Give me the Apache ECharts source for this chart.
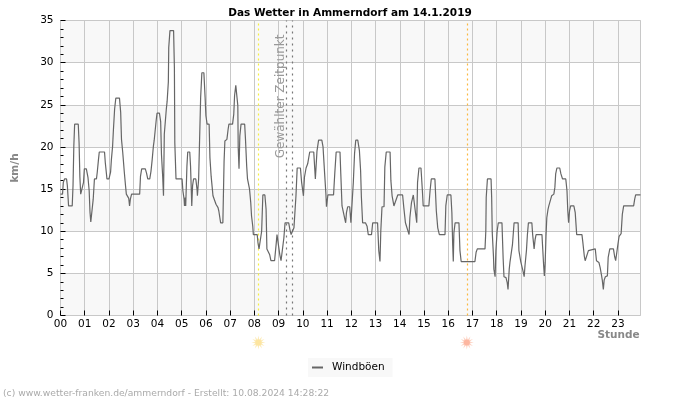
<!DOCTYPE html>
<html><head><meta charset="utf-8">
<style>html,body{margin:0;padding:0;background:#fff}#c{width:700px;height:400px}</style>
<script src="https://cdn.jsdelivr.net/npm/echarts@6/dist/echarts.min.js"></script>
</head><body><div id="c"></div>
<script>
const chartTitle = 'Das Wetter in Ammerndorf am 14.1.2019';
const credit = '(c) www.wetter-franken.de/ammerndorf - Erstellt: 10.08.2024 14:28:22';
const seriesName = 'Windböen';
const sunriseMinute = 490, sunsetMinute = 1006;
const selectedMinutes = [560, 575];
// [minute of day, km/h]
const gusts = [
[0,14.4],[5,14.4],[7,15.8],[10,16.2],[15,16.2],[17,15.4],[19,13.8],[20,13],[29,13],[31,15.4],[33,20.1],[35,22.7],[44,22.7],[46,20.5],[48,16.4],[50,14.4],[54,14.4],[57,15.8],[59,17.4],[64,17.4],[68,16.4],[71,14.8],[73,12.3],[75,11.1],[79,11.1],[81,13.8],[84,16.2],[89,16.2],[91,17],[94,18.5],[96,19.4],[109,19.4],[111,18.1],[114,16.7],[115,16.2],[120,16.2],[124,17],[126,18.5],[129,20.1],[131,22],[134,24.5],[137,25.8],[146,25.8],[149,24.1],[151,20.9],[154,19.4],[156,19.4],[158,17],[161,15.4],[163,14.4],[167,14.4],[169,13.9],[171,13],[173,13.8],[176,14.4],[196,14.4],[198,16.5],[201,17.4],[210,17.4],[213,16.9],[216,16.2],[221,16.2],[224,17.1],[227,18.5],[230,20.1],[232,20.8],
[234,20.7],[237,23.2],[239,24],[245,24],[248,23],[250,19.1],[253,16.5],[255,14.2],[257,21.5],[259,21.5],[262,24.5],[264,25.4],[267,27.7],[268,31.8],[271,33.8],[280,33.8],[282,29.4],[283,20.5],[286,16.2],[301,16.2],[303,14.8],[306,13.8],[307,13],[309,14],[310,13],[313,17.7],[315,19.4],[320,19.4],[322,17.7],[325,13],[327,15.4],[329.5,16.2],[335,16.2],[338,15],[339,14.2],[342,16.2],[344,20.1],[347,25.9],[350,28.8],[355,28.8],[358,25.9],[360,23.7],[363,22.7],[368,22.7],[370,18.7],[373,16.5],[376,15],[377.5,14.2],[382,14.2],[385,13.2],[390,12.8],[392,12.4],[396.5,11],[402,11],[405,18.3],[407,20.7],[412,20.9],[415,22.1],[417,22.7],[426,22.7],[429,23.9],[431,26.1],[434,27.3],[437,27.3],[439,24.9],[440,19.9],[442,17.4],[444,21.3],[447,22.7],[456,22.7],[458,20.9],[461,17.7],[463,16.2],[466,16.1],[468,15],[471,13.4],[473,11.8],[476,10.6],[477.5,9.6],
[487,9.6],[489,8.6],[491.5,7.9],[496,7.9],[498,10],[501,14.3],[506,14.3],[509,12.6],[511,7.9],[515,7.8],[518,7.2],[521,6.5],[530,6.5],[534,8.5],[536,9.6],[540,9.6],[543,7.2],[546,6.5],[550,6.5],[553,9.2],[556,11],[565,11],[568,10.2],[571,9.6],[575,9.6],[578,10.4],[583,14.2],[586,17.5],[594,17.5],[597,15.8],[601.5,14.2],[604,16.4],[608,17.5],[612,18],[617,19.4],[627,19.4],[631,16.2],[635,19.5],[639,20.8],[647,20.8],[650,20],[654,16.8],[657,14.5],[658.5,12.9],[662,14.3],[676,14.3],[679,16.8],[682.5,19.4],[692,19.4],[694,16.8],[697,13],[701.6,12.8],[706,11],
[708,12.2],[711,12.9],[716,12.9],[719,11],[721,12.6],[725,15.8],[728,19.2],[731,20.8],[736,20.8],[740,19.6],[743,17.2],[745,14],[748,11],[755,11],[759,10.6],[762,9.6],[770,9.6],[773,11],[785,11],[788,7.7],[791,6.4],[793,10],[796,12.9],[801,12.9],[803,17.6],[806.5,19.4],[816,19.4],[818,16],[821,14.2],[825.5,13],[830,13],[835,14.3],[847,14.3],[850,12.8],[854,11],[858,10.8],[863,9.6],[865,11.6],[869,13.4],[873.5,14.3],[878,14.3],[882,11],[884,15.8],[887.5,17.5],[892.5,17.5],[896,14.8],[898,13],[912,13],[915,14.8],[918,16.2],[927,16.2],[930.5,12.4],[934,10.4],[938,9.6],[952,9.6],
[954,13],[957.5,14.3],[966.6,14.3],[969,12.2],[971,8.4],[972.5,6.4],[974,9.8],[977,11],[986.5,11],[989,7.7],[992,6.4],[1026,6.4],[1029,7.5],[1032,7.9],[1051,7.9],[1053,10],[1054,14],[1057,16.2],[1066,16.2],[1067.5,14],[1069,9.8],[1072,7],[1073,5.5],[1076,4.6],[1078,7.7],[1081,10],[1084,11],[1093,11],[1096,6.7],[1098,4.6],[1103,4.5],[1106,3.9],[1108,3.1],[1111,5.5],[1113,6.4],[1116,6.5],[1119,8.4],[1123,11],[1133,11],[1135,7.7],[1139.5,6.4],[1143,6.3],[1145,5.3],[1148,4.6],[1150,5.9],[1153.6,7.7],[1156,9.6],[1158.5,11],[1167,11],[1169,9.6],[1172.6,7.9],[1175,9],[1177.5,9.6],
[1192,9.6],[1194,7.85],[1196,6.1],[1198,4.7],[1200,6.3],[1202,9.4],[1204,11.6],[1207,12.6],[1209,13],[1212,13.2],[1216,14.2],[1221.5,14.4],[1224,15.2],[1226,16.8],[1229,17.5],[1236,17.5],[1239,16.8],[1243,16.2],[1251,16.2],[1254,14.8],[1256,12.4],[1258,11],[1260.3,12.4],[1263,13],[1271,13],[1274.4,12.2],[1278,9.6],[1291,9.6],[1293,8.8],[1297,7],[1299,6.5],[1303,6.5],[1307,7.7],[1309,7.9],[1324,7.9],[1327,6.5],[1333,6.3],[1336,5.7],[1339,4.9],[1341.4,4.2],[1344,3.1],[1346,4.2],[1349,4.6],[1354,4.7],[1356,6.9],[1360,7.9],[1369,7.9],[1372,7],[1374.5,6.5],[1379.4,8.2],[1383,9.4],[1388,9.7],[1391,12],[1394.3,13],[1419,13],[1421.6,13.8],[1424,14.3],[1436,14.3]
];
const FONT = '"DejaVu Sans"';
const GRID = '#c8c8c8';
const sunRays = 'path://M50 0 L56 30 L75 7 L68 34 L93 25 L72 44 L100 50 L72 56 L93 75 L68 66 L75 93 L56 70 L50 100 L44 70 L25 93 L32 66 L7 75 L28 56 L0 50 L28 44 L7 25 L32 34 L25 7 L44 30 Z';
const belowAxis = -3.2;
const chart = echarts.init(document.getElementById('c'), null, {renderer:'canvas'});
const vLine = (x,color,type)=>({xAxis:x,lineStyle:{color,width:1.2,type}});
chart.setOption({
  animation:false,
  backgroundColor:'#fff',
  title:{text:chartTitle,left:345,top:3,textAlign:'center',textStyle:{fontFamily:FONT,fontSize:10.5,fontWeight:'bold',color:'#000'}},
  legend:{left:308,top:358,backgroundColor:'#f8f8f8',padding:[4,8,4,4],itemWidth:11,itemHeight:2,itemGap:4,
    data:[{name:seriesName,icon:'rect'}],textStyle:{fontFamily:FONT,fontSize:10.5,color:'#000',padding:[0,0,0,4]}},
  grid:{left:60.5,top:20.5,width:580,height:295,show:true,borderColor:GRID,borderWidth:1,backgroundColor:'transparent'},
  xAxis:{type:'value',min:0,max:1436,interval:60,
    name:'Stunde',nameLocation:'end',nameGap:-43,
    nameTextStyle:{fontFamily:FONT,fontWeight:'bold',fontSize:10.5,color:'#888',verticalAlign:'top',padding:[14,0,0,0]},
    axisLine:{show:false},
    axisTick:{inside:true,length:5,lineStyle:{color:'#000',width:1}},
    splitLine:{show:true,lineStyle:{color:GRID,width:1}},
    axisLabel:{margin:3,fontFamily:FONT,fontSize:10.5,color:'#000',showMaxLabel:false,hideOverlap:false,
      formatter:v=>v%60===0?String(v/60).padStart(2,'0'):''}},
  yAxis:{type:'value',min:0,max:35,interval:5,
    name:'km/h',nameLocation:'middle',nameGap:40,nameRotate:90,
    nameTextStyle:{fontFamily:FONT,fontWeight:'bold',fontSize:10.5,color:'#888'},
    axisLine:{show:false},
    axisTick:{inside:true,length:5,lineStyle:{color:'#000',width:1}},
    minorTick:{show:true,splitNumber:5,length:3,lineStyle:{color:'#000',width:1}},
    splitLine:{show:true,lineStyle:{color:GRID,width:1}},
    splitArea:{show:true,areaStyle:{color:['#f8f8f8','#ffffff']}},
    axisLabel:{margin:7,fontFamily:FONT,fontSize:10.5,color:'#000'}},
  series:[
    {name:seriesName,type:'line',data:gusts,showSymbol:false,symbol:'none',z:5,
     lineStyle:{color:'#666',width:1.2},itemStyle:{color:'#666'},
     markLine:{silent:true,symbol:'none',animation:false,
       label:{show:false},
       data:[vLine(sunriseMinute,'#f7f03c',[2,3]),vLine(sunsetMinute,'#fbb840',[2,3]),
         {...vLine(selectedMinutes[0],'#777',[2,4]),label:{show:true,position:'insideEndTop',distance:0,padding:[0,14,0,0],formatter:'Gewählter Zeitpunkt',fontFamily:FONT,fontSize:12,color:'#999'}},
         vLine(selectedMinutes[1],'#777',[2,4])]}},
    {type:'scatter',clip:false,silent:true,z:3,symbol:sunRays,symbolSize:14,
     data:[{value:[sunriseMinute,belowAxis],itemStyle:{color:'#fbe6a6'}},{value:[sunsetMinute,belowAxis],itemStyle:{color:'#fcc9b6'}}]},
    {type:'scatter',clip:false,silent:true,z:4,symbol:'circle',symbolSize:6,
     data:[{value:[sunriseMinute,belowAxis],itemStyle:{color:'#fde39a'}},{value:[sunsetMinute,belowAxis],itemStyle:{color:'#fdae96'}}]}
  ],
  graphic:[{type:'text',left:3,top:389,style:{text:credit,fontFamily:FONT,fontSize:9.2,fill:'#aaa'}}]
});
</script></body></html>
